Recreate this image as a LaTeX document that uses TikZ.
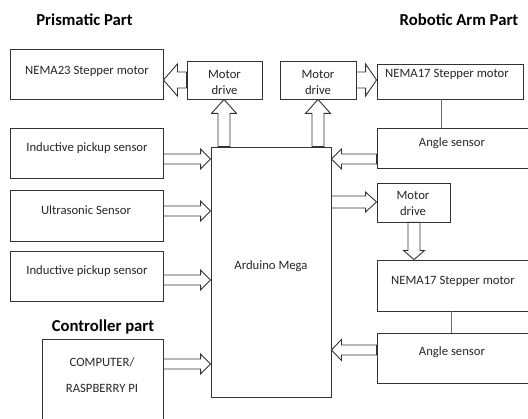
\documentclass[tikz,border=0pt]{standalone}
\usepackage{fontspec}
\setmainfont{Carlito}
\usetikzlibrary{calc,fit}
\definecolor{lnk}{RGB}{68,114,196}
\newcommand\barrow[5]{%
  \coordinate (bah) at ($(#2)!#5pt!(#1)$);
  \draw[arr] ($(#1)!#3pt!90:(#2)$) -- ($(bah)!#3pt!90:(#2)$) -- ($(bah)!#4pt!90:(#2)$) -- (#2)
    -- ($(bah)!#4pt!-90:(#2)$) -- ($(bah)!#3pt!-90:(#2)$) -- ($(#1)!#3pt!-90:(#2)$) -- cycle;}
\begin{document}
\begin{tikzpicture}[x=1pt,y=-1pt,
  box/.style={draw=black!80, line width=0.9pt, inner sep=0pt, rectangle},
  txt/.style={font=\fontsize{12.7}{16}\selectfont, text=black!85, inner sep=0pt, anchor=base, align=center},
  ttl/.style={font=\fontsize{16.7}{18}\selectfont\bfseries, inner sep=0pt, anchor=base},
  arr/.style={draw=black!80, fill=white, line width=0.9pt, line join=miter},
  link/.style={draw=lnk, line width=0.9pt}]
\useasboundingbox (0,0) rectangle (528,419);
\clip (0,0) rectangle (528,419);

% titles
\node[ttl] (t1) at (84.5,25.5) {Prismatic Part};
\node[ttl] (t2) at (459,25.5) {Robotic Arm Part};
\node[ttl] (t3) at (103,332) {Controller part};

% boxes
\node[box, fit={(10,49) (163,99)}] (nema23) {};
\node[box, fit={(187,61) (262,99)}] (md1) {};
\node[box, fit={(280,61) (356,99)}] (md2) {};
\node[box, fit={(377,64) (523,99)}] (nema17a) {};
\node[box, fit={(377,128) (540,168)}] (ang1) {};
\node[box, fit={(377,183) (450,222)}] (md3) {};
\node[box, fit={(377,260) (540,311)}] (nema17b) {};
\node[box, fit={(377,333) (540,383)}] (ang2) {};
\node[box, fit={(10,128) (163,178)}] (ind1) {};
\node[box, fit={(10,190) (163,241)}] (ultra) {};
\node[box, fit={(10,251) (163,301)}] (ind2) {};
\node[box, fit={(42,339) (163,440)}] (comp) {};
\node[box, fit={(211,147) (331,397)}] (ard) {};

% texts (multi-line nodes: base = last line's baseline)
\node[txt] at (87,75) {NEMA23 Stepper motor};
\node[txt] at (224.5,94.5) {Motor\\drive};
\node[txt] at (318,94.5) {Motor\\drive};
\node[txt] at (447,78) {NEMA17 Stepper motor};
\node[txt] at (452,147) {Angle sensor};
\node[txt] at (413,216) {Motor\\drive};
\node[txt] at (453,285) {NEMA17 Stepper motor};
\node[txt] at (452,356) {Angle sensor};
\node[txt] at (87,152) {Inductive pickup sensor};
\node[txt] at (86,215) {Ultrasonic Sensor};
\node[txt] at (87,275) {Inductive pickup sensor};
\node[txt] at (271,270) {Arduino Mega};
\node[txt, font=\fontsize{12.7}{26}\selectfont] at (102,393) {COMPUTER/\\RASPBERRY PI};

% blue links
\draw[link] (nema17a.south -| 441,0) -- (ang1.north -| 441,0);
\draw[link] (nema17b.south -| 451,0) -- (ang2.north -| 451,0);

% block arrows
\coordinate (a1s) at (md1.west |- 0,80);   \coordinate (a1e) at (nema23.east |- a1s);
\barrow{a1s}{a1e}{8}{16}{14}
\coordinate (a2s) at (ard.north -| 224,0); \coordinate (a2e) at (a2s |- md1.south);
\barrow{a2s}{a2e}{6}{12.5}{14}
\coordinate (a3s) at (ard.north -| 318,0); \coordinate (a3e) at (a3s |- md2.south);
\barrow{a3s}{a3e}{6}{12.5}{14}
\coordinate (a4s) at (md2.east |- 0,80);   \coordinate (a4e) at (nema17a.west |- a4s);
\barrow{a4s}{a4e}{8}{16}{11}
\coordinate (a5s) at (ang1.west |- 0,159); \coordinate (a5e) at (ard.east |- a5s);
\barrow{a5s}{a5e}{5}{10}{10}
\coordinate (a6s) at (ard.east |- 0,202);  \coordinate (a6e) at (md3.west |- a6s);
\barrow{a6s}{a6e}{6}{10}{11}
\coordinate (a7s) at (md3.south -| 414,0); \coordinate (a7e) at (a7s |- nema17b.north);
\barrow{a7s}{a7e}{6}{10.5}{9}
\coordinate (a8s) at (ang2.west |- 0,350); \coordinate (a8e) at (ard.east |- a8s);
\barrow{a8s}{a8e}{5}{10.5}{10}
\coordinate (a9s) at (ind1.east |- 0,159); \coordinate (a9e) at (ard.west |- a9s);
\barrow{a9s}{a9e}{5}{10}{10}
\coordinate (a10s) at (ultra.east |- 0,211); \coordinate (a10e) at (ard.west |- a10s);
\barrow{a10s}{a10e}{5}{10}{10}
\coordinate (a11s) at (ind2.east |- 0,280); \coordinate (a11e) at (ard.west |- a11s);
\barrow{a11s}{a11e}{5}{10}{10}
\coordinate (a12s) at (comp.east |- 0,364); \coordinate (a12e) at (ard.west |- a12s);
\barrow{a12s}{a12e}{5}{10}{10}
\end{tikzpicture}
\end{document}
